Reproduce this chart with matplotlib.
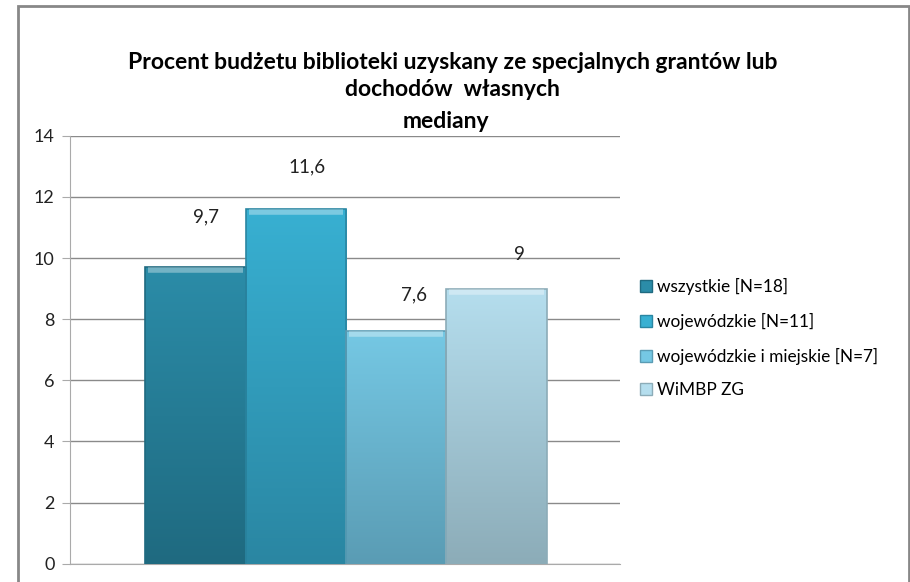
import matplotlib.pyplot as plt
import numpy as np
from matplotlib.lines import Line2D
from matplotlib.patches import Rectangle
from matplotlib.colors import LinearSegmentedColormap

plt.rcParams['font.family'] = ['Lato', 'DejaVu Sans']

# dane
series = ['wszystkie [N=18]', 'wojewódzkie [N=11]', 'wojewódzkie i miejskie [N=7]', 'WiMBP ZG']
values = [9.7, 11.6, 7.6, 9.0]
value_labels = ['9,7', '11,6', '7,6', '9']
yticks = [0, 2, 4, 6, 8, 10, 12, 14]

# kolory (góra / dół gradientu)
top_colors = ['#2b8ca8', '#38b0d2', '#75c8e4', '#b5deee']
bottom_colors = ['#1f6a80', '#2a86a2', '#5a9cb4', '#8cacb8']
# przesunięcia etykiet (x, y) w jednostkach danych
label_dx = [0.11, 0.11, 0.18, 0.23]
label_dy = [1.64, 1.38, 1.19, 1.10]

fig = plt.figure(figsize=(9.1, 5.82), dpi=100)
ax = fig.add_axes([0.0769, 0.0314, 0.6044, 0.7354])

x = np.arange(len(values))
bars = ax.bar(x, values, width=1.0, color='none', edgecolor='none', zorder=3)
for i, b in enumerate(bars):
    cmap = LinearSegmentedColormap.from_list('g', [bottom_colors[i], top_colors[i]])
    grad = np.linspace(0, 1, 256).reshape(-1, 1)
    im = ax.imshow(grad, cmap=cmap, aspect='auto', origin='lower',
                   extent=[b.get_x(), b.get_x() + b.get_width(), 0, values[i]], zorder=3)
    im.set_clip_path(b)
    # obramowanie i jasny górny brzeg
    ax.add_patch(Rectangle((b.get_x(), 0), b.get_width(), values[i], fill=False,
                           edgecolor=bottom_colors[i], lw=1.2, zorder=4))
    ax.plot([b.get_x() + 0.03, b.get_x() + b.get_width() - 0.03], [values[i] - 0.1] * 2,
            color='white', alpha=0.35, lw=4, zorder=4, solid_capstyle='butt')
    ax.text(x[i] + label_dx[i], values[i] + label_dy[i], value_labels[i],
            ha='center', va='center', fontsize=13.5, color='#222222', zorder=5)

ax.set_xlim(-1.25, 4.23)
ax.set_ylim(0, 14)
ax.set_yticks(yticks)
ax.set_yticklabels([str(t) for t in yticks], fontsize=13, color='#222222')
ax.set_xticks([])
ax.yaxis.grid(True, color='#8a8a8a', lw=1)
ax.set_axisbelow(True)
for s in ['top', 'right']:
    ax.spines[s].set_visible(False)
ax.spines['left'].set_color('#aaaaaa')
ax.spines['bottom'].set_color('#aaaaaa')
ax.tick_params(axis='y', length=6, color='#aaaaaa', pad=5)

# tytuł
fig.text(0.497, 0.892, 'Procent budżetu biblioteki uzyskany ze specjalnych grantów lub',
         ha='center', va='center', fontsize=16.5, fontweight='bold')
fig.text(0.497, 0.847, 'dochodów  własnych', ha='center', va='center', fontsize=16.5, fontweight='bold')
fig.text(0.49, 0.792, 'mediany', ha='center', va='center', fontsize=16.5, fontweight='bold')

# legenda
handles = [Line2D([], [], marker='s', linestyle='none', markersize=8,
                  markerfacecolor=top_colors[i], markeredgecolor=bottom_colors[i])
           for i in range(len(series))]
fig.legend(handles, series, loc='upper left', bbox_to_anchor=(0.695, 0.537),
           frameon=False, fontsize=12.4, handlelength=0.6, handletextpad=0.3,
           labelspacing=1.03, borderpad=0)

# ramka
fig.patches.append(Rectangle((17.5 / 910, -0.02), 891 / 910, 1.02 - 5.5 / 582,
                             transform=fig.transFigure, fill=False,
                             edgecolor='#888888', lw=2))

plt.savefig('out.png', dpi=100)
